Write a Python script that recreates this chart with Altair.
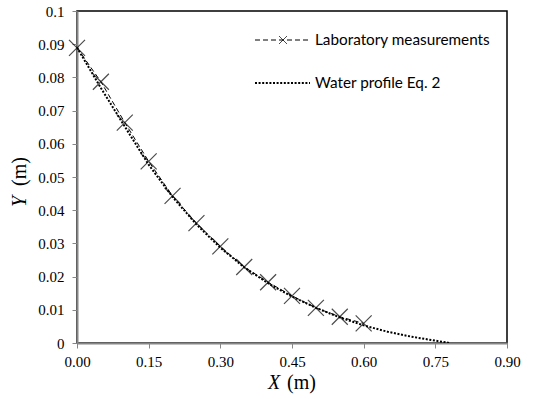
import altair as alt
import pandas as pd

# Laboratory measurements
meas_x = [0.00, 0.05, 0.10, 0.15, 0.20, 0.25, 0.30, 0.35, 0.40, 0.45, 0.50, 0.55, 0.60]
meas_y = [0.0889, 0.0787, 0.0664, 0.0547, 0.0443, 0.0361, 0.0291, 0.0229, 0.0183, 0.0142, 0.0106, 0.0079, 0.0059]

# Water profile Eq. 2
prof_x = [0.00, 0.05, 0.10, 0.15, 0.20, 0.25, 0.30, 0.35, 0.40, 0.45, 0.50, 0.55, 0.60, 0.65, 0.70, 0.75, 0.78]
prof_y = [0.0890, 0.0768, 0.0652, 0.0537, 0.0440, 0.0357, 0.0287, 0.0228, 0.0180, 0.0140, 0.0106, 0.0077, 0.0053, 0.0034, 0.0019, 0.0007, 0.0000]

x_ticks = [0.0, 0.15, 0.30, 0.45, 0.60, 0.75, 0.90]
y_ticks = [0.0, 0.01, 0.02, 0.03, 0.04, 0.05, 0.06, 0.07, 0.08, 0.09, 0.1]

legend_labels = ["Laboratory measurements", "Water profile Eq. 2"]

meas = pd.DataFrame({"x": meas_x, "y": meas_y})
prof = pd.DataFrame({"x": prof_x, "y": prof_y})
one = pd.DataFrame({"a": [0]})

W, H = 430, 332
CROSS = "M-1,-1L1,1M-1,1L1,-1"

xscale = alt.Scale(domain=[0, 0.9], nice=False, zero=False)
yscale = alt.Scale(domain=[0, 0.1], nice=False, zero=False)


def xaxis():
    return alt.Axis(values=x_ticks, format=".2f", title=None, grid=False,
                    labelPadding=6, labelFlush=False, labelOverlap=False)


def yaxis():
    return alt.Axis(values=y_ticks, format="~g", title=None, grid=False,
                    labelPadding=8, labelFlush=False, labelOverlap=False,
                    tickCount=11)


def enc():
    return dict(
        x=alt.X("x:Q", scale=xscale, axis=xaxis()),
        y=alt.Y("y:Q", scale=yscale, axis=yaxis()),
    )


profile = alt.Chart(prof).mark_line(
    color="black", strokeWidth=2, strokeDash=[2, 1.6], clip=True
).encode(**enc())

meas_line = alt.Chart(meas).mark_line(
    color="black", strokeWidth=1, strokeDash=[5, 3]
).encode(**enc())

meas_pts = alt.Chart(meas).mark_point(
    shape=CROSS, size=256, color="black", strokeWidth=1.2, filled=False
).encode(**enc())

# Legend (drawn manually)
leg_font = "Lato"
leg_size = 15.3
leg1_line = alt.Chart(one).mark_rule(color="black", strokeWidth=1, strokeDash=[5, 3]).encode(
    x=alt.value(178), x2=alt.value(233), y=alt.value(29))
leg1_pt = alt.Chart(one).mark_point(shape=CROSS, size=64, color="black", strokeWidth=1).encode(
    x=alt.value(206), y=alt.value(29))
leg1_txt = alt.Chart(one).mark_text(align="left", baseline="middle", font=leg_font,
                                    fontSize=leg_size, color="black",
                                    text=legend_labels[0]).encode(
    x=alt.value(238), y=alt.value(29))
leg2_line = alt.Chart(one).mark_rule(color="black", strokeWidth=2, strokeDash=[2, 1.6]).encode(
    x=alt.value(178), x2=alt.value(233), y=alt.value(72))
leg2_txt = alt.Chart(one).mark_text(align="left", baseline="middle", font=leg_font,
                                    fontSize=leg_size, color="black",
                                    text=legend_labels[1]).encode(
    x=alt.value(238), y=alt.value(72))

# Axis titles with italic variable letter
tfont = "Liberation Serif"
tsize = 20
xt1 = alt.Chart(one).mark_text(align="left", baseline="alphabetic", font=tfont, fontSize=tsize,
                               fontStyle="italic", text="X", color="black").encode(
    x=alt.value(191), y=alt.value(378))
xt2 = alt.Chart(one).mark_text(align="left", baseline="alphabetic", font=tfont, fontSize=tsize,
                               text="(m)", color="black").encode(
    x=alt.value(210), y=alt.value(378))
yt1 = alt.Chart(one).mark_text(align="left", baseline="alphabetic", font=tfont, fontSize=tsize,
                               fontStyle="italic", text="Y", angle=270, color="black").encode(
    x=alt.value(-51), y=alt.value(196))
yt2 = alt.Chart(one).mark_text(align="left", baseline="alphabetic", font=tfont, fontSize=tsize,
                               text="(m)", angle=270, color="black").encode(
    x=alt.value(-51), y=alt.value(175))

chart = alt.layer(
    profile, meas_line, meas_pts,
    leg1_line, leg1_pt, leg1_txt, leg2_line, leg2_txt,
    xt1, xt2, yt1, yt2,
).properties(
    width=W, height=H,
    autosize=alt.AutoSizeParams(type="none"),
    padding={"left": 77, "top": 11, "right": 32, "bottom": 56},
    background="white",
).configure_view(
    stroke="black", strokeWidth=1.5
).configure_axis(
    labelFont="Liberation Serif", labelFontSize=15, labelColor="black",
    tickColor="#868686", tickSize=5, tickWidth=1,
    domainColor="#868686", domainWidth=2,
    labelOverlap=False, labelFlush=False,
)

chart.save("out.html", embed_options={"renderer": "svg", "actions": False})
